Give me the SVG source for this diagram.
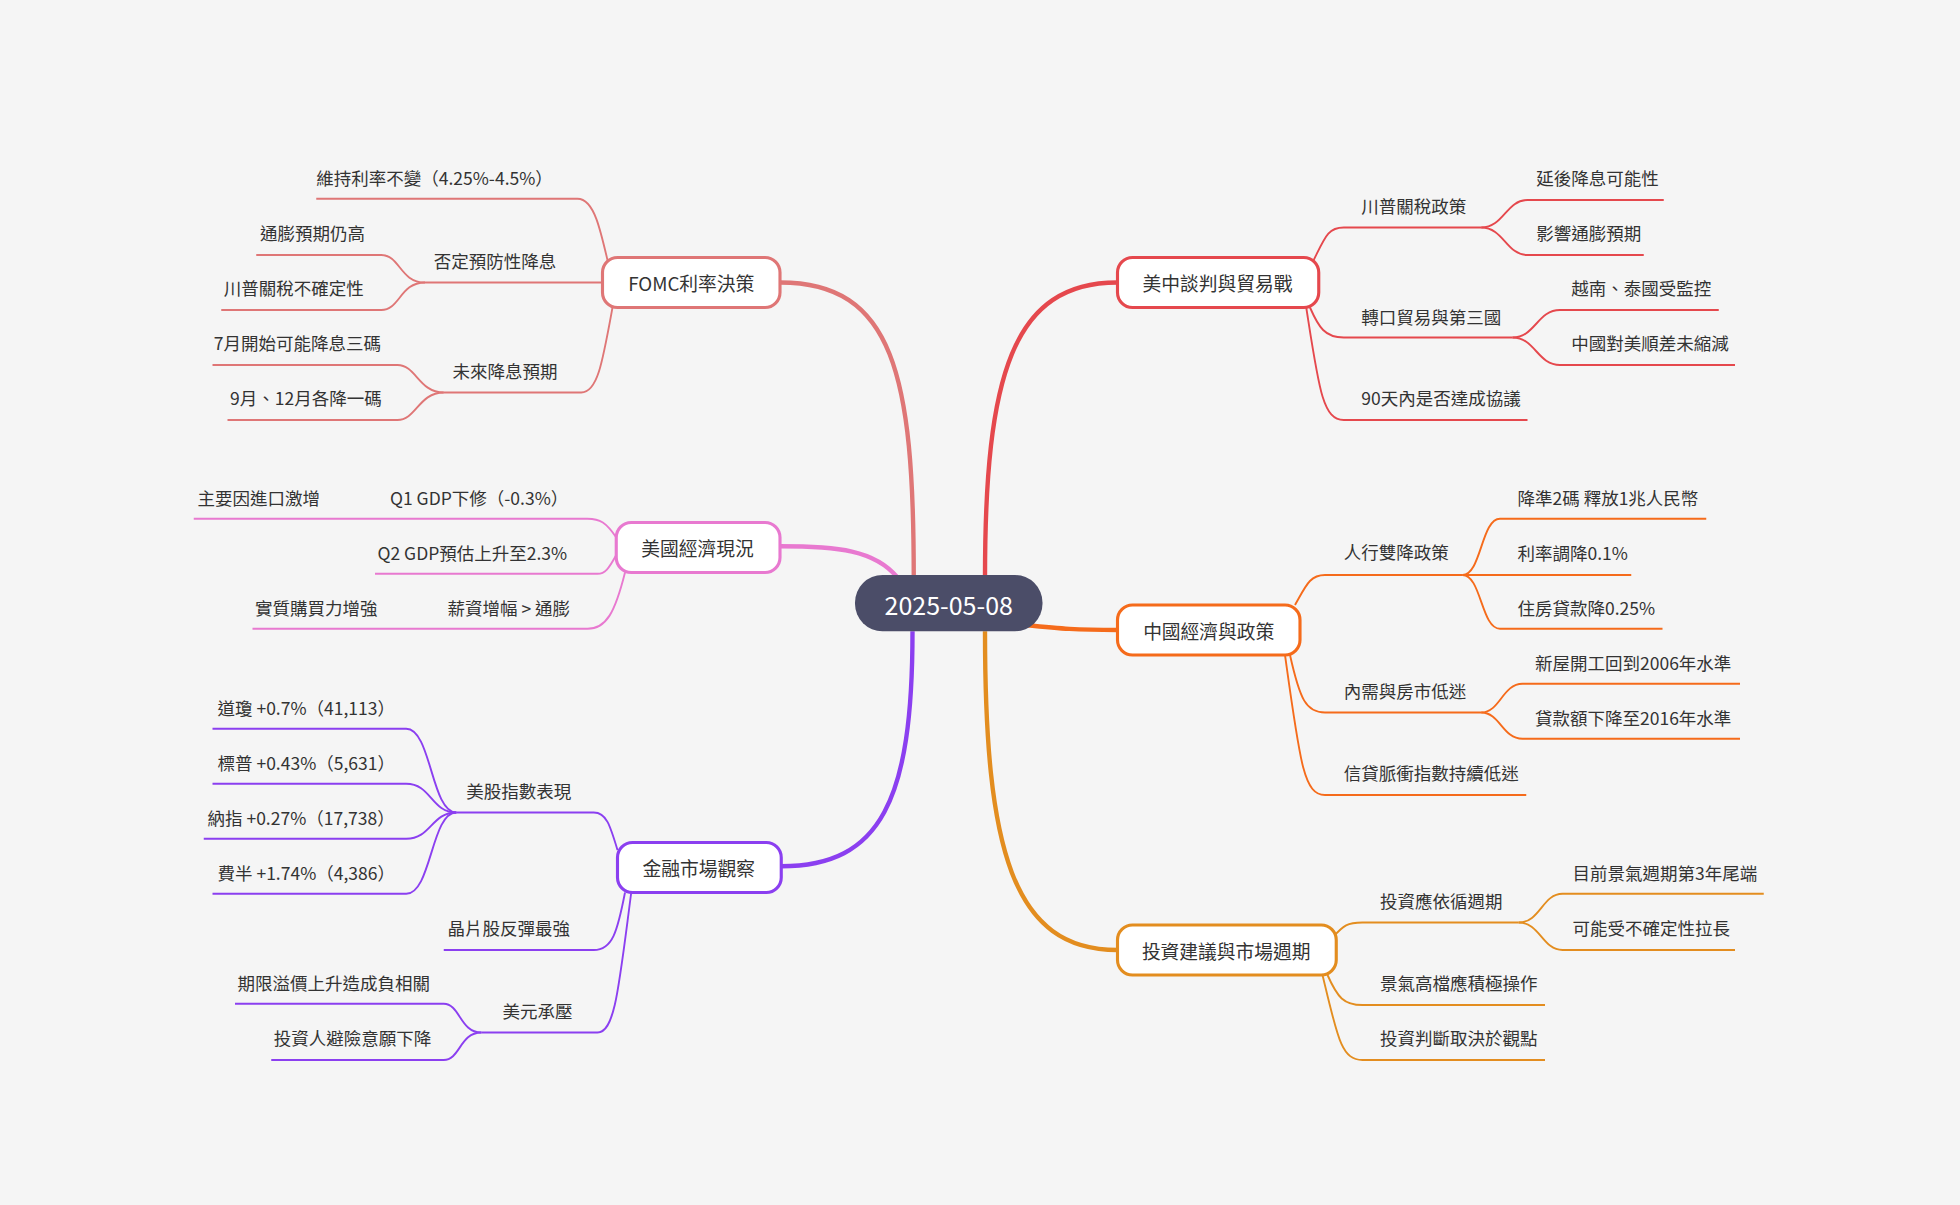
<svg xmlns="http://www.w3.org/2000/svg" width="1960" height="1205" viewBox="0 0 1960 1205">
<style>
text{font-family:"Noto Sans CJK TC","Noto Sans",sans-serif;font-size:14px;fill:#333;dominant-baseline:central}
.l{text-anchor:start}.m{text-anchor:middle}
.box{fill:#fff;stroke-width:2.5}
.e{fill:none;stroke-width:1.5}.main{fill:none;stroke-width:3.5}
.a{stroke:#df7676}.b{stroke:#e879d0}.c{stroke:#8b3ff0}.d{stroke:#e5484d}.f{stroke:#f56b1b}.g{stroke:#e38d1f}
</style>
<rect width="1960" height="1205" fill="#f5f5f5"/>
<g transform="scale(1.25)">
<g id="connectors">
<path class="main a" d="M731,462 C731,300 715,226 624,226"/>
<path class="main b" d="M718,462 C700,440 670,437 624,437"/>
<path class="main c" d="M730,505 C730,640 705,693 625,693"/>
<path class="main d" d="M788,462 C788,300 810,226 894,226"/>
<path class="main f" d="M820,500 C850,503 860,504 894,504"/>
<path class="main g" d="M788,505 C788,680 810,760 894,760"/>
<!-- FOMC -->
<path class="e a" d="M490,226 C480,180 475,159 462,159 L253,159"/>
<path class="e a" d="M482,226 L340,226"/>
<path class="e a" d="M340,226 C320,226 320,204 305,204 L205,204"/>
<path class="e a" d="M340,226 C320,226 320,248 305,248 L177,248"/>
<path class="e a" d="M490,246 C482,290 478,314 465,314 L355,314"/>
<path class="e a" d="M355,314 C335,314 333,292 318,292 L170,292"/>
<path class="e a" d="M355,314 C335,314 333,336 318,336 L182,336"/>
<!-- US econ -->
<path class="e b" d="M493,430 C485,418 480,415 470,415 L155,415"/>
<path class="e b" d="M493,444 C487,455 484,459 478,459 L300,459"/>
<path class="e b" d="M500,458 C492,490 485,503 470,503 L202,503"/>
<!-- finance -->
<path class="e c" d="M494,680 C488,660 485,650 475,650 L365,650"/>
<path class="e c" d="M365,650 C345,650 345,583 325,583 L170,583"/>
<path class="e c" d="M365,650 C345,650 345,627 325,627 L170,627"/>
<path class="e c" d="M365,650 C345,650 345,671 325,671 L163,671"/>
<path class="e c" d="M365,650 C345,650 345,715 325,715 L170,715"/>
<path class="e c" d="M500,714 C494,745 490,760 475,760 L355,760"/>
<path class="e c" d="M505,714 C495,790 492,826 478,826 L385,826"/>
<path class="e c" d="M385,826 C368,826 368,803 355,803 L188,803"/>
<path class="e c" d="M385,826 C368,826 368,848 355,848 L217,848"/>
<!-- US-China -->
<path class="e d" d="M1050,210 C1060,190 1062,182 1075,182 L1185,182"/>
<path class="e d" d="M1185,182 C1203,182 1205,160 1222,160 L1331,160"/>
<path class="e d" d="M1185,182 C1203,182 1205,204 1222,204 L1315,204"/>
<path class="e d" d="M1048,246 C1055,262 1060,270 1075,270 L1210,270"/>
<path class="e d" d="M1210,270 C1228,270 1230,248 1248,248 L1375,248"/>
<path class="e d" d="M1210,270 C1228,270 1230,292 1248,292 L1388,292"/>
<path class="e d" d="M1045,246 C1055,310 1058,336 1075,336 L1222,336"/>
<!-- China -->
<path class="e f" d="M1036,484 C1045,468 1048,460 1060,460 L1170,460"/>
<path class="e f" d="M1170,460 C1185,460 1185,415 1200,415 L1365,415"/>
<path class="e f" d="M1170,460 L1305,460"/>
<path class="e f" d="M1170,460 C1185,460 1185,503 1200,503 L1330,503"/>
<path class="e f" d="M1032,524 C1040,560 1045,570 1060,570 L1185,570"/>
<path class="e f" d="M1185,570 C1200,570 1202,547 1218,547 L1392,547"/>
<path class="e f" d="M1185,570 C1200,570 1202,591 1218,591 L1392,591"/>
<path class="e f" d="M1028,524 C1040,610 1043,636 1060,636 L1221,636"/>
<!-- invest -->
<path class="e g" d="M1066,750 C1075,740 1078,738 1090,738 L1215,738"/>
<path class="e g" d="M1215,738 C1232,738 1234,715 1250,715 L1411,715"/>
<path class="e g" d="M1215,738 C1232,738 1234,760 1250,760 L1388,760"/>
<path class="e g" d="M1062,780 C1070,798 1075,804 1090,804 L1236,804"/>
<path class="e g" d="M1058,780 C1070,830 1073,848 1090,848 L1236,848"/>
</g>
<g id="center"><rect x="684" y="460" width="150" height="45" rx="22" fill="#4b4d68"/><text class="m" x="759" y="483" style="fill:#fff;font-size:20px">2025-05-08</text></g>
<g id="fomc"><rect class="box a" x="482" y="206" width="142" height="40" rx="12"/><text class="m" x="553" y="226" style="font-size:15px">FOMC利率決策</text></g>
<g id="useco"><rect class="box b" x="493" y="418" width="131" height="40" rx="12"/><text class="m" x="558" y="438" style="font-size:15px">美國經濟現況</text></g>
<g id="fin"><rect class="box c" x="494" y="674" width="131" height="40" rx="12"/><text class="m" x="559" y="694" style="font-size:15px">金融市場觀察</text></g>
<g id="usch"><rect class="box d" x="894" y="206" width="161" height="40" rx="12"/><text class="m" x="974" y="226" style="font-size:15px">美中談判與貿易戰</text></g>
<g id="chn"><rect class="box f" x="894" y="484" width="146" height="40" rx="12"/><text class="m" x="967" y="504" style="font-size:15px">中國經濟與政策</text></g>
<g id="inv"><rect class="box g" x="894" y="740" width="175" height="40" rx="12"/><text class="m" x="981" y="760" style="font-size:15px">投資建議與市場週期</text></g>
<g id="leaves">
<text x="253" y="142">維持利率不變（4.25%-4.5%）</text>
<text x="347" y="208">否定預防性降息</text>
<text x="208" y="186">通膨預期仍高</text>
<text x="179" y="230">川普關稅不確定性</text>
<text x="362" y="296">未來降息預期</text>
<text x="171" y="274">7月開始可能降息三碼</text>
<text x="184" y="318">9月、12月各降一碼</text>
<text x="158" y="398">主要因進口激增</text>
<text x="312" y="398">Q1 GDP下修（-0.3%）</text>
<text x="302" y="442">Q2 GDP預估上升至2.3%</text>
<text x="204" y="486">實質購買力增強</text>
<text x="358" y="486">薪資增幅 &gt; 通膨</text>
<text x="373" y="632">美股指數表現</text>
<text x="174" y="566">道瓊 +0.7%（41,113）</text>
<text x="174" y="610">標普 +0.43%（5,631）</text>
<text x="166" y="654">納指 +0.27%（17,738）</text>
<text x="174" y="698">費半 +1.74%（4,386）</text>
<text x="358" y="742">晶片股反彈最強</text>
<text x="402" y="808">美元承壓</text>
<text x="190" y="786">期限溢價上升造成負相關</text>
<text x="219" y="830">投資人避險意願下降</text>
<text x="1089" y="164">川普關稅政策</text>
<text x="1229" y="142">延後降息可能性</text>
<text x="1229" y="186">影響通膨預期</text>
<text x="1089" y="253">轉口貿易與第三國</text>
<text x="1257" y="230">越南、泰國受監控</text>
<text x="1257" y="274">中國對美順差未縮減</text>
<text x="1089" y="318">90天內是否達成協議</text>
<text x="1075" y="441">人行雙降政策</text>
<text x="1214" y="398">降準2碼 釋放1兆人民幣</text>
<text x="1214" y="442">利率調降0.1%</text>
<text x="1214" y="486">住房貸款降0.25%</text>
<text x="1075" y="552">內需與房市低迷</text>
<text x="1228" y="530">新屋開工回到2006年水準</text>
<text x="1228" y="574">貸款額下降至2016年水準</text>
<text x="1075" y="618">信貸脈衝指數持續低迷</text>
<text x="1104" y="720">投資應依循週期</text>
<text x="1258" y="698">目前景氣週期第3年尾端</text>
<text x="1258" y="742">可能受不確定性拉長</text>
<text x="1104" y="786">景氣高檔應積極操作</text>
<text x="1104" y="830">投資判斷取決於觀點</text>
</g>
</g>
</svg>
